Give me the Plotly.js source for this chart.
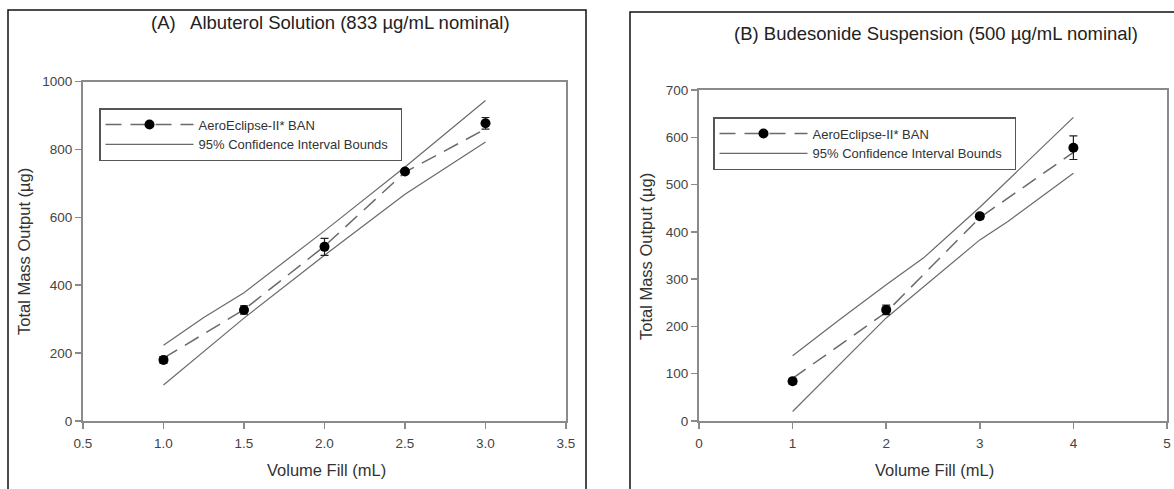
<!DOCTYPE html>
<html><head><meta charset="utf-8">
<script src="https://cdn.plot.ly/plotly-3.0.1.min.js"></script>
<style>html,body{margin:0;padding:0;background:#fff}</style>
</head><body><div id="chart" style="width:1174px;height:489px"></div>
<script>
// Panel A: Albuterol Solution
const volA = [1.0, 1.5, 2.0, 2.5, 3.0];
const massA = [180, 327, 513, 735, 877];
const errA = [10, 12, 25, 5, 17];
const fitA = [185, 328, 515, 733, 860];
const ciUpperXA = [1.0, 1.25, 1.5, 2.0, 2.5, 3.0];
const ciUpperA = [223, 305, 378, 560, 748, 944];
const ciLowerXA = [1.0, 1.5, 2.0, 2.5, 3.0];
const ciLowerA = [106, 303, 488, 668, 822];
// Panel B: Budesonide Suspension
const volB = [1, 2, 3, 4];
const massB = [84, 235, 433, 578];
const errB = [6, 10, 6, 25];
const fitB = [90, 230, 430, 568];
const ciUpperXB = [1, 1.5, 2, 2.4, 3, 4];
const ciUpperB = [138, 214, 288, 345, 452, 642];
const ciLowerXB = [1, 2, 3, 3.3, 4];
const ciLowerB = [20, 218, 383, 422, 524];

const seriesName = 'AeroEclipse-II* BAN';
const ciName = '95% Confidence Interval Bounds\u00a0\u00a0';
const titleA = '(A)\u00a0\u00a0 Albuterol Solution (833 µg/mL nominal)';
const titleB = '(B) Budesonide Suspension (500 µg/mL nominal)';
const xTitle = 'Volume Fill (mL)';
const yTitle = 'Total Mass Output (µg)';

const W = 1174, H = 489;
const px = v => v / W, py = v => 1 - v / H;
const FONT = 'Liberation Sans, Arial, sans-serif';
const lineGray = '#6a6a6a';
const dash = '16px,9px';

function panel(xa, ya, leg, vol, mass, err, fit, cux, cu, clx, cl) {
  return [
    {x: vol, y: fit, xaxis: xa, yaxis: ya, mode: 'lines', line: {color: lineGray, width: 1.5, dash: dash}, showlegend: false, hoverinfo: 'skip'},
    {x: cux, y: cu, xaxis: xa, yaxis: ya, mode: 'lines', line: {color: lineGray, width: 1.2}, showlegend: false},
    {x: clx, y: cl, xaxis: xa, yaxis: ya, mode: 'lines', line: {color: lineGray, width: 1.2}, showlegend: false},
    {x: vol, y: mass, xaxis: xa, yaxis: ya, mode: 'markers', marker: {color: '#000', size: 10},
      error_y: {type: 'data', array: err, color: '#222', thickness: 1.2, width: 4}, showlegend: false},
    {x: [null], y: [null], xaxis: xa, yaxis: ya, mode: 'lines+markers', name: seriesName, legend: leg,
      line: {color: lineGray, width: 1.5, dash: dash}, marker: {color: '#000', size: 10}},
    {x: [null], y: [null], xaxis: xa, yaxis: ya, mode: 'lines', name: ciName, legend: leg,
      line: {color: lineGray, width: 1.2}}
  ];
}

const data = [].concat(
  panel('x', 'y', 'legend', volA, massA, errA, fitA, ciUpperXA, ciUpperA, ciLowerXA, ciLowerA),
  panel('x2', 'y2', 'legend2', volB, massB, errB, fitB, ciUpperXB, ciUpperB, ciLowerXB, ciLowerB)
);

const axBase = {
  showgrid: false, zeroline: false, showline: true, mirror: true,
  linecolor: '#8a8a8a', linewidth: 2, ticks: 'outside', ticklen: 6, tickwidth: 1.5,
  tickcolor: '#8a8a8a', tickfont: {family: FONT, size: 13.5, color: '#444'},
  ticklabeloverflow: 'allow'
};

const legBase = {
  xref: 'paper', yref: 'paper', xanchor: 'left', yanchor: 'top',
  bgcolor: '#fff', bordercolor: '#555', borderwidth: 1.5,
  font: {family: FONT, size: 13, color: '#333'}, itemwidth: 88, tracegroupgap: 0
};

const layout = {
  width: W, height: H,
  margin: {l: 0, r: 0, t: 0, b: 0},
  paper_bgcolor: '#fff', plot_bgcolor: '#fff',
  font: {family: FONT, color: '#333'},
  showlegend: true,
  xaxis: Object.assign({}, axBase, {domain: [px(83), px(566)], range: [0.5, 3.5], dtick: 0.5, tick0: 0.5, tickformat: '.1f', anchor: 'y', ticklabelstandoff: 3}),
  yaxis: Object.assign({}, axBase, {domain: [py(421), py(81.5)], range: [0, 1000], dtick: 200, anchor: 'x'}),
  xaxis2: Object.assign({}, axBase, {domain: [px(699), px(1167)], range: [0, 5], dtick: 1, anchor: 'y2', ticklabelstandoff: 3}),
  yaxis2: Object.assign({}, axBase, {domain: [py(421), py(90)], range: [0, 700], dtick: 100, anchor: 'x2'}),
  legend: Object.assign({}, legBase, {x: px(99), y: py(108)}),
  legend2: Object.assign({}, legBase, {x: px(713), y: py(117)}),
  annotations: [
    {text: titleA, xref: 'paper', yref: 'paper', x: px(330), y: py(22), xanchor: 'center', yanchor: 'middle', showarrow: false, font: {family: FONT, size: 18.5, color: '#222'}},
    {text: titleB, xref: 'paper', yref: 'paper', x: px(936), y: py(33), xanchor: 'center', yanchor: 'middle', showarrow: false, font: {family: FONT, size: 18.5, color: '#222'}},
    {text: xTitle, xref: 'paper', yref: 'paper', x: px(326), y: py(470), xanchor: 'center', yanchor: 'middle', showarrow: false, font: {family: FONT, size: 16.5, color: '#333'}},
    {text: xTitle, xref: 'paper', yref: 'paper', x: px(934), y: py(470), xanchor: 'center', yanchor: 'middle', showarrow: false, font: {family: FONT, size: 16.5, color: '#333'}},
    {text: yTitle, xref: 'paper', yref: 'paper', x: px(24), y: py(252), xanchor: 'center', yanchor: 'middle', textangle: -90, showarrow: false, font: {family: FONT, size: 16.5, color: '#333'}},
    {text: yTitle, xref: 'paper', yref: 'paper', x: px(646), y: py(257), xanchor: 'center', yanchor: 'middle', textangle: -90, showarrow: false, font: {family: FONT, size: 16.5, color: '#333'}}
  ],
  shapes: [
    {type: 'rect', xref: 'paper', yref: 'paper', x0: px(8), x1: px(586), y0: -0.05, y1: py(10), line: {color: '#111', width: 1.5}},
    {type: 'rect', xref: 'paper', yref: 'paper', x0: px(630), x1: 1.05, y0: -0.05, y1: py(12), line: {color: '#111', width: 1.5}}
  ]
};

Plotly.newPlot('chart', data, layout, {displayModeBar: false, staticPlot: true});
</script>
</body></html>
